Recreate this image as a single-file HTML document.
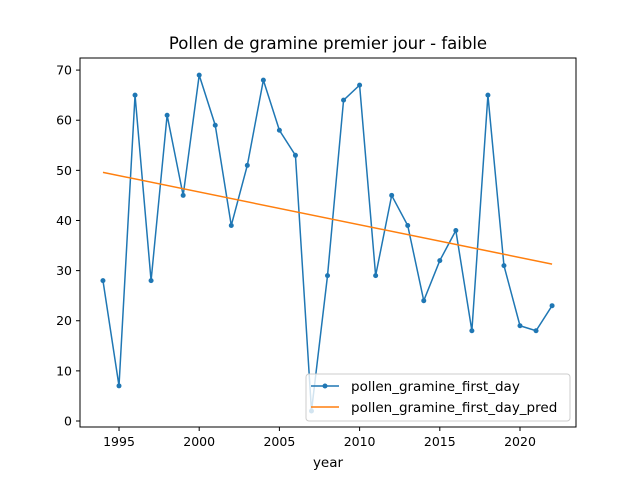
<!DOCTYPE html>
<html><head><meta charset="utf-8"><style>
body{margin:0;background:#fff;}
svg{font-family:"DejaVu Sans","Liberation Sans",sans-serif;}
</style></head><body>
<svg id="chart" width="640" height="480" viewBox="0 0 640 480">
<rect width="640" height="480" fill="#fff"/>
<text x="328" y="49" font-size="16.5" text-anchor="middle">Pollen de gramine premier jour - faible</text>
<g id="xt"></g>
<g id="yt"></g>
<g id="series"></g>
<rect x="80" y="58" width="496" height="369" fill="none" stroke="#000" stroke-width="1"/>
<text x="328" y="467" font-size="13.5" text-anchor="middle">year</text>
<g>
<rect x="306" y="374" width="264" height="47" rx="3" fill="#fff" fill-opacity="0.8" stroke="#ccc"/>
<g>
<line x1="311" y1="386" x2="339" y2="386" stroke="#1f77b4" stroke-width="1.5"/>
<circle cx="325" cy="386" r="2.5" fill="#1f77b4"/>
<text x="351" y="391" font-size="13.5">pollen_gramine_first_day</text></g>
<g>
<line x1="311" y1="407" x2="339" y2="407" stroke="#ff7f0e" stroke-width="1.5"/>
<text x="351" y="412" font-size="13.5">pollen_gramine_first_day_pred</text></g>
</g>
</svg>
<script>
const years=[1994,1995,1996,1997,1998,1999,2000,2001,2002,2003,2004,2005,2006,2007,2008,2009,2010,2011,2012,2013,2014,2015,2016,2017,2018,2019,2020,2021,2022];
const values=[28,7,65,28,61,45,69,59,39,51,68,58,53,2,29,64,67,29,45,39,24,32,38,18,65,31,19,18,23];
const predYears=[1994,2022];
const predValues=[49.6,31.3];
const xTicks=[1995,2000,2005,2010,2015,2020];
const yTicks=[0,10,20,30,40,50,60,70];
const NS="http://www.w3.org/2000/svg";
function X(v){return 119+(v-1995)*16.04;}
function Y(v){return 421-v*5.013;}
function mk(t,a,p){const e=document.createElementNS(NS,t);for(const k in a)e.setAttribute(k,a[k]);p.appendChild(e);return e;}
const xt=document.getElementById('xt'),yt=document.getElementById('yt'),s=document.getElementById('series');
xTicks.forEach(v=>{const g=mk('g',{},xt);


mk('line',{x1:X(v),x2:X(v),y1:427,y2:431,stroke:'#000'},g);
const t=mk('text',{x:X(v),y:446,'font-size':12.5,'text-anchor':'middle'},g);t.textContent=v;});
yTicks.forEach(v=>{const g=mk('g',{},yt);


mk('line',{x1:76,x2:80,y1:Y(v),y2:Y(v),stroke:'#000'},g);
const t=mk('text',{x:72,y:Y(v)+4.5,'font-size':12.5,'text-anchor':'end'},g);t.textContent=v;});
const line=mk('polyline',{points:years.map((y,i)=>X(y)+','+Y(values[i])).join(' '),fill:'none',stroke:'#1f77b4','stroke-width':1.5},s);


years.forEach((y,i)=>{const c=mk('circle',{cx:X(y),cy:Y(values[i]),r:2.5,fill:'#1f77b4'},s);

});
const pl=mk('polyline',{points:predYears.map((y,i)=>X(y)+','+Y(predValues[i])).join(' '),fill:'none',stroke:'#ff7f0e','stroke-width':1.5},s);


</script>
</body></html>
